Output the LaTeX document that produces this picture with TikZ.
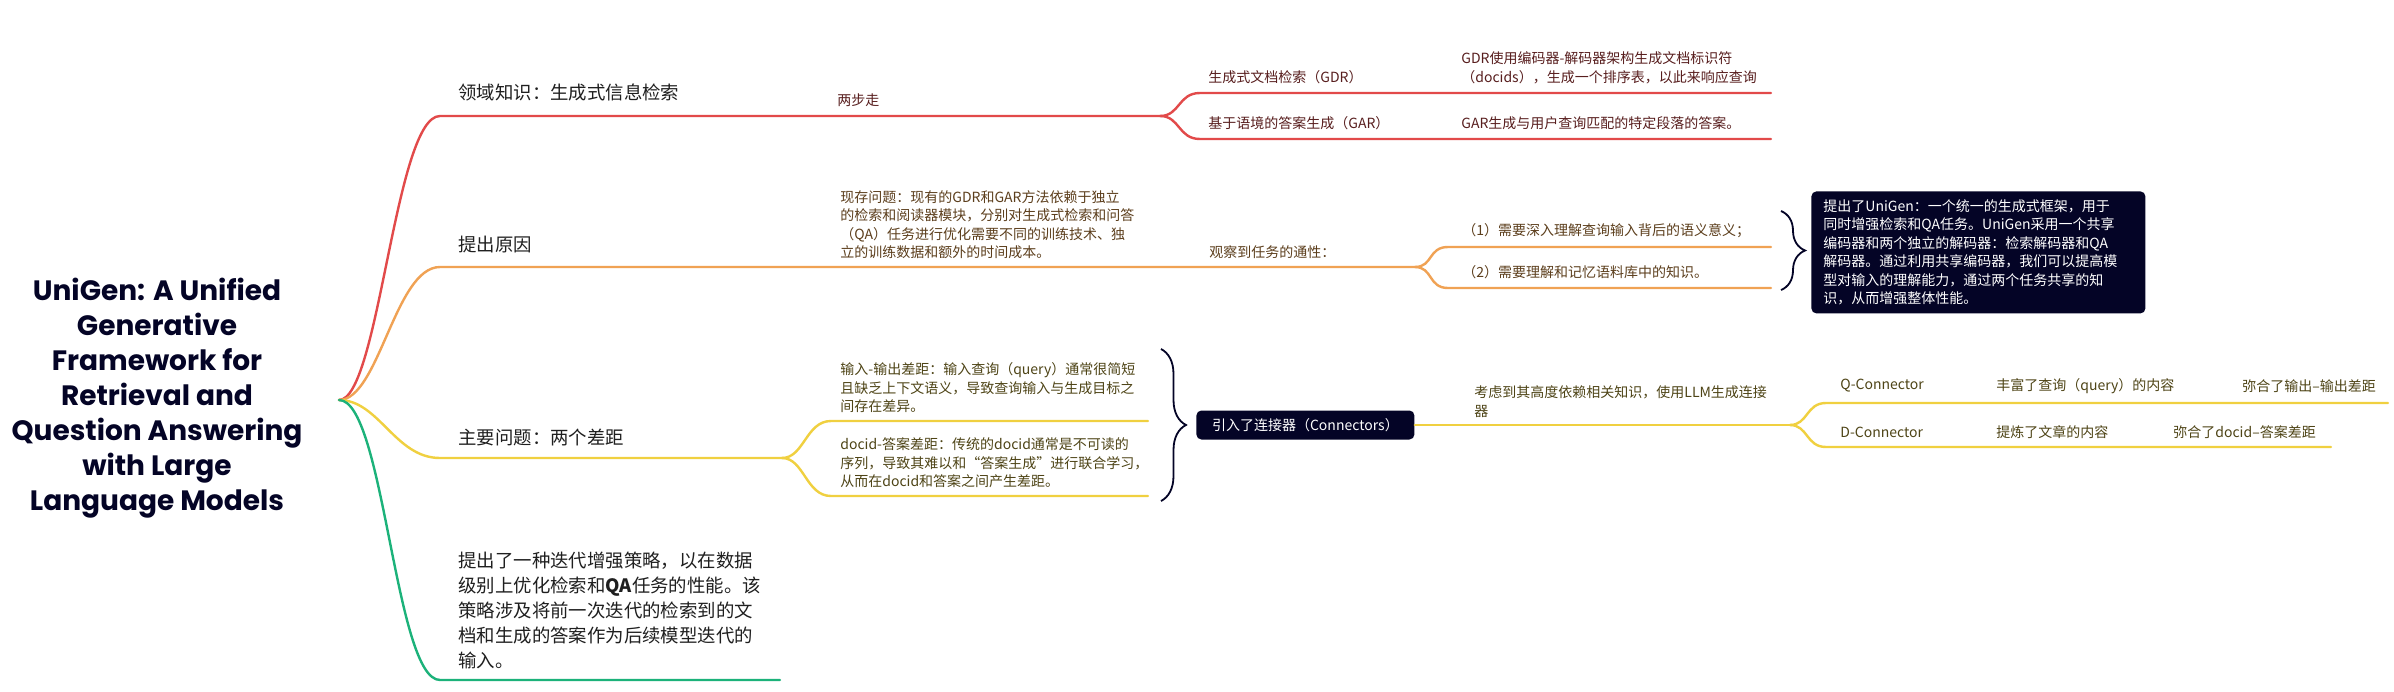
\documentclass[tikz,border=0pt]{standalone}
\usepackage{fontspec}
\setmainfont{Noto Sans CJK SC}
\newfontfamily\titlefont{Poppins}
\usetikzlibrary{decorations.pathreplacing}
\definecolor{redline}{RGB}{226,74,74}
\definecolor{orangeline}{RGB}{240,162,84}
\definecolor{yellowline}{RGB}{240,208,64}
\definecolor{greenline}{RGB}{28,178,122}
\definecolor{redtext}{RGB}{88,30,30}
\definecolor{orangetext}{RGB}{92,62,28}
\definecolor{yellowtext}{RGB}{78,68,22}
\definecolor{navy}{RGB}{4,4,38}
\begin{document}
\begin{tikzpicture}[x=0.5pt,y=-0.5pt,
  topic/.style={anchor=west,inner sep=0pt,align=left,font=\fontsize{9.2}{12.5}\selectfont,text=black!88},
  leaf/.style={anchor=west,inner sep=0pt,align=left,font=\fontsize{7}{9.25}\selectfont},
  branch/.style={line width=1.2pt,line cap=round},
  darkbox/.style={fill=navy,text=white,rounded corners=2.5pt,inner sep=0pt,align=left,font=\fontsize{7}{9.2}\selectfont},
  bracket/.style={draw=navy,line width=0.9pt,decorate,decoration={brace,amplitude=#1}}]
\useasboundingbox (0,0) rectangle (2394,691);
\fill[white] (0,0) rectangle (2394,691);
\node[font={\titlefont\bfseries\fontsize{14}{17.5}\selectfont},text=navy,align=center] (title) at (157,398)
  {UniGen: A Unified\\Generative\\Framework for\\Retrieval and\\Question Answering\\with Large\\Language Models};
\coordinate (root) at (339,400);
% red branch
\node[topic] (domain) at (458,92) {领域知识：生成式信息检索};
\node[leaf,text=redtext] (twostep) at (837,100) {两步走};
\node[leaf,text=redtext] (gdr) at (1208,77) {生成式文档检索（GDR）};
\node[leaf,text=redtext] (gar) at (1208,123) {基于语境的答案生成（GAR）};
\node[leaf,text=redtext] (gdrdesc) at (1461,68) {GDR使用编码器-解码器架构生成文档标识符\\（docids），生成一个排序表，以此来响应查询};
\node[leaf,text=redtext] (gardesc) at (1461,123) {GAR生成与用户查询匹配的特定段落的答案。};
\coordinate (r0) at (440,116); \coordinate (rf) at (1160,116);
\coordinate (r1) at (1200,93); \coordinate (r1e) at (1771,93);
\coordinate (r2) at (1200,139); \coordinate (r2e) at (1771,139);
\draw[branch,redline] (root) .. controls +(40,0) and +(-45,0) .. (r0) -- (rf);
\draw[branch,redline] (rf) .. controls +(20,0) and +(-22,0) .. (r1) -- (r1e);
\draw[branch,redline] (rf) .. controls +(20,0) and +(-22,0) .. (r2) -- (r2e);
% orange branch
\node[topic] (reason) at (458,245) {提出原因};
\node[leaf,text=orangetext] (problem) at (840,224.5) {现存问题：现有的GDR和GAR方法依赖于独立\\的检索和阅读器模块，分别对生成式检索和问答\\（QA）任务进行优化需要不同的训练技术、独\\立的训练数据和额外的时间成本。};
\node[leaf,text=orangetext] (observe) at (1209,252) {观察到任务的通性：};
\node[leaf,text=orangetext] (need1) at (1462,231) {（1）需要深入理解查询输入背后的语义意义；};
\node[leaf,text=orangetext] (need2) at (1462,272) {（2）需要理解和记忆语料库中的知识。};
\coordinate (o0) at (440,267); \coordinate (of) at (1415,267);
\coordinate (o1) at (1448,247); \coordinate (o1e) at (1771,247);
\coordinate (o2) at (1448,288); \coordinate (o2e) at (1771,288);
\draw[branch,orangeline] (root) .. controls +(40,0) and +(-45,0) .. (o0) -- (of);
\draw[branch,orangeline] (of) .. controls +(18,0) and +(-20,0) .. (o1) -- (o1e);
\draw[branch,orangeline] (of) .. controls +(18,0) and +(-20,0) .. (o2) -- (o2e);
\draw[bracket=12pt] (1781,211) -- (1781,290);
\node[darkbox,anchor=north west,inner xsep=6pt,text width=155pt,minimum height=61pt] (unigen) at (1811,191)
  {提出了UniGen：一个统一的生成式框架，用于\\同时增强检索和QA任务。UniGen采用一个共享\\编码器和两个独立的解码器：检索解码器和QA\\解码器。通过利用共享编码器，我们可以提高模\\型对输入的理解能力，通过两个任务共享的知\\识，从而增强整体性能。};
% yellow branch
\node[topic] (gaps) at (458,437) {主要问题：两个差距};
\node[leaf,text=yellowtext] (iogap) at (840,388) {输入-输出差距：输入查询（query）通常很简短\\且缺乏上下文语义，导致查询输入与生成目标之\\间存在差异。};
\node[leaf,text=yellowtext] (docgap) at (840,463) {docid-答案差距：传统的docid通常是不可读的\\序列，导致其难以和“答案生成”进行联合学习，\\从而在docid和答案之间产生差距。};
\coordinate (y0) at (440,458); \coordinate (yf) at (782,458);
\coordinate (y1) at (831,421); \coordinate (y1e) at (1148,421);
\coordinate (y2) at (831,496); \coordinate (y2e) at (1148,496);
\draw[branch,yellowline] (root) .. controls +(40,0) and +(-45,0) .. (y0) -- (yf);
\draw[branch,yellowline] (yf) .. controls +(22,0) and +(-25,0) .. (y1) -- (y1e);
\draw[branch,yellowline] (yf) .. controls +(22,0) and +(-25,0) .. (y2) -- (y2e);
\draw[bracket=12.5pt] (1161,349) -- (1161,501);
\node[darkbox,anchor=west,minimum width=109pt,minimum height=14.5pt] (conn) at (1196,425) {引入了连接器（Connectors）};
\node[leaf,text=yellowtext] (llm) at (1474,401.5) {考虑到其高度依赖相关知识，使用LLM生成连接\\器};
\coordinate (cf) at (1790,425);
\coordinate (q1) at (1826,403); \coordinate (q1e) at (2388,403);
\coordinate (d1) at (1826,447); \coordinate (d1e) at (2331,447);
\draw[branch,yellowline] (conn) -- (cf);
\draw[branch,yellowline] (cf) .. controls +(18,0) and +(-20,0) .. (q1) -- (q1e);
\draw[branch,yellowline] (cf) .. controls +(18,0) and +(-20,0) .. (d1) -- (d1e);
\node[leaf,text=yellowtext] (qconn) at (1840,386) {Q-Connector};
\node[leaf,text=yellowtext] (qenrich) at (1996,386) {丰富了查询（query）的内容};
\node[leaf,text=yellowtext] (qbridge) at (2242,386) {弥合了输出–输出差距};
\node[leaf,text=yellowtext] (dconn) at (1840,432) {D-Connector};
\node[leaf,text=yellowtext] (drefine) at (1996,432) {提炼了文章的内容};
\node[leaf,text=yellowtext] (dbridge) at (2173,432) {弥合了docid–答案差距};
% green branch
\node[topic] (strategy) at (458,610) {提出了一种迭代增强策略，以在数据\\级别上优化检索和\textbf{QA}任务的性能。该\\策略涉及将前一次迭代的检索到的文\\档和生成的答案作为后续模型迭代的\\输入。};
\coordinate (g0) at (440,680); \coordinate (g0e) at (780,680);
\draw[branch,greenline] (root) .. controls +(45,0) and +(-45,0) .. (g0) -- (g0e);
\end{tikzpicture}
\end{document}
